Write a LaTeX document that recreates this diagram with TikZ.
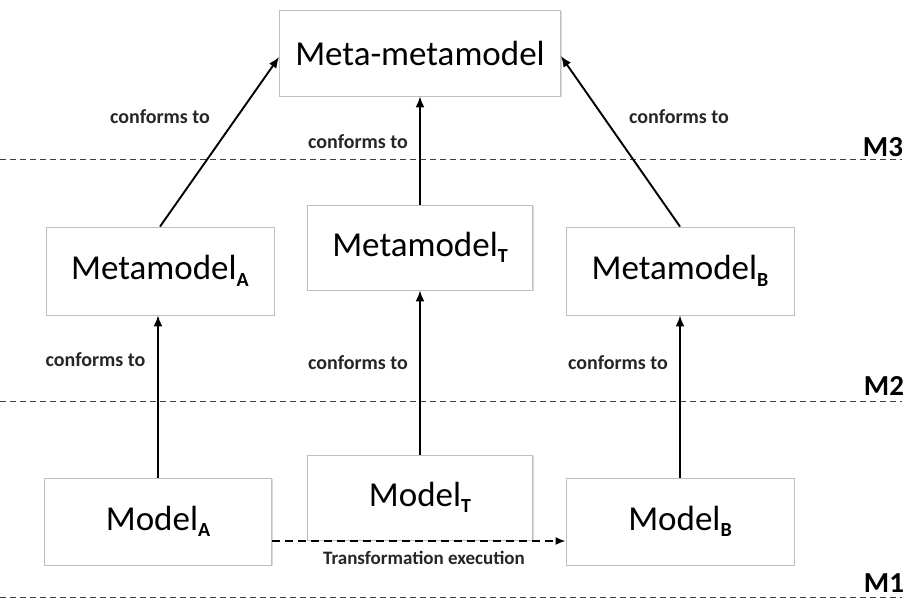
\documentclass[tikz,border=0pt]{standalone}
\usepackage{fontspec}
\setmainfont{Carlito}
\usetikzlibrary{arrows.meta,shadows}
\begin{document}
\begin{tikzpicture}[x=1pt,y=1pt,
  box/.style={draw=black!25,line width=0.8pt,fill=white,
    drop shadow={shadow xshift=1pt,shadow yshift=-1.5pt,opacity=0.25,fill=black!60},
    font=\fontsize{35}{40}\selectfont,inner sep=0pt,align=center},
  conn/.style={line width=1.9pt,-{Latex[length=11pt,width=9pt]}},
  lbl/.style={font=\fontsize{20}{22}\selectfont\bfseries,text=black!85,inner sep=0pt},
  lvl/.style={font=\fontsize{29}{30}\selectfont\bfseries,inner sep=0pt},
  sep/.style={draw=black!75,line width=1pt,dash pattern=on 6pt off 4pt}]
\newcommand{\sbs}[1]{\raisebox{-6.5pt}{\fontsize{20}{20}\selectfont\bfseries #1}}
\useasboundingbox (0,0) rectangle (913,602);

% level separators
\coordinate (s3a) at (0,442); \coordinate (s3b) at (902,442);
\coordinate (s2a) at (0,200); \coordinate (s2b) at (902,200);
\coordinate (s1a) at (0,4);   \coordinate (s1b) at (902,4);
\draw[sep] (s3a) -- (s3b);
\draw[sep] (s2a) -- (s2b);
\draw[sep] (s1a) -- (s1b);
\node[lvl] (M3) at (883,455) {M3};
\node[lvl] (M2) at (884,216) {M2};
\node[lvl] (M1) at (884,19) {M1};

% boxes
\node[box,minimum width=281pt,minimum height=86pt] (MM) at (420,549) {Meta-metamodel};
\node[box,minimum width=228pt,minimum height=88pt] (MetaA) at (160,331) {Metamodel\sbs{A}};
\node[box,minimum width=225pt,minimum height=85pt] (MetaT) at (420,354.5) {Metamodel\sbs{T}};
\node[box,minimum width=228pt,minimum height=88pt] (MetaB) at (680,331) {Metamodel\sbs{B}};
\node[box,minimum width=227pt,minimum height=87pt] (ModA) at (158,80.5) {Model\sbs{A}};
\node[box,minimum width=225pt,minimum height=85pt] (ModT) at (420,104.5) {Model\sbs{T}};
\node[box,minimum width=228pt,minimum height=87pt] (ModB) at (680,80.5) {Model\sbs{B}};

% connectors
\draw[conn] (ModA.north) -- (ModA.north |- MetaA.south);
\draw[conn] (ModT.north) -- (MetaT.south);
\draw[conn] (ModB.north) -- (MetaB.south);
\draw[conn] (MetaA.north) -- ([yshift=-4pt]MM.west);
\draw[conn] (MetaT.north) -- (MM.south);
\draw[conn] (MetaB.north) -- ([yshift=-3pt]MM.east);
\draw[line width=1.9pt,dash pattern=on 8pt off 5pt,-{Latex[length=10pt,width=8pt]}]
  ([yshift=-19.5pt]ModA.east) -- ([yshift=-19.5pt]ModB.west);

% labels
\node[lbl] (c1) at (160,485) {conforms to};
\node[lbl] (c2) at (358,460) {conforms to};
\node[lbl] (c3) at (679,485) {conforms to};
\node[lbl] (c4) at (95.5,242) {conforms to};
\node[lbl] (c5) at (358,239) {conforms to};
\node[lbl] (c6) at (618,239) {conforms to};
\node[lbl,font=\fontsize{19}{21}\selectfont\bfseries] (tx) at (424,44) {Transformation execution};
\end{tikzpicture}
\end{document}
